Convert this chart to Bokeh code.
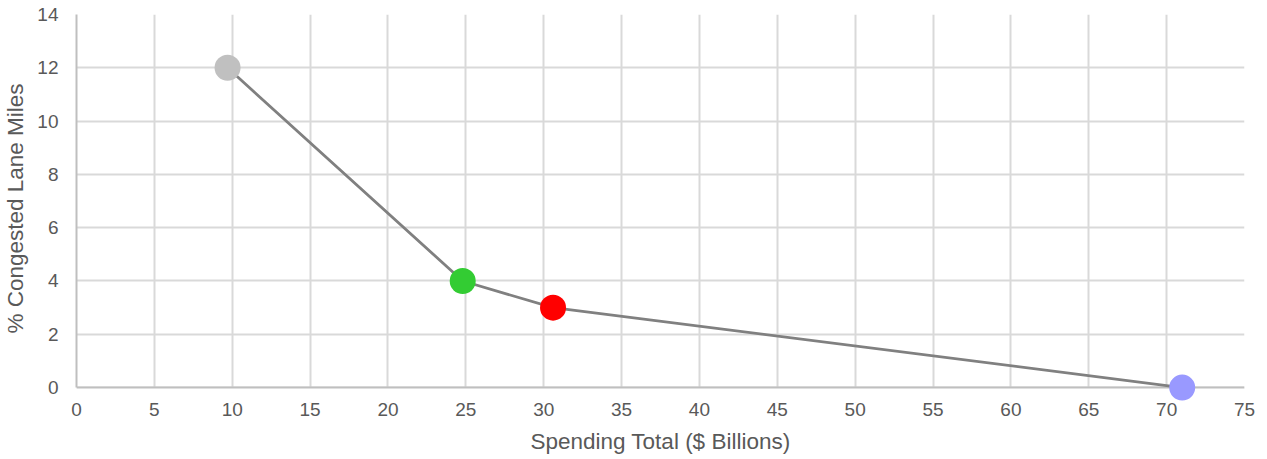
from bokeh.plotting import figure
from bokeh.models import ColumnDataSource, Range1d, FixedTicker
from bokeh.embed import file_html
from bokeh.resources import INLINE

# Spending scenarios: total spending vs. share of congested lane miles
spending = [9.7, 24.8, 30.6, 71.0]
congested = [12, 4, 3, 0]
colors = ["#c0c0c0", "#33cc33", "#ff0000", "#9999ff"]

x_ticks = list(range(0, 80, 5))
y_ticks = list(range(0, 16, 2))

x_min, x_max = x_ticks[0], x_ticks[-1]
y_min, y_max = y_ticks[0], y_ticks[-1]
# a little room under zero so markers sitting on the baseline are not cut off
y_pad = 0.56

src = ColumnDataSource(data=dict(x=spending, y=congested, c=colors))

p = figure(width=1267, height=459, output_backend="svg", toolbar_location=None,
           x_range=Range1d(x_min, x_max), y_range=Range1d(y_min - y_pad, y_max),
           min_border_left=76, min_border_right=23, min_border_top=14,
           min_border_bottom=57)
p.outline_line_color = None
p.background_fill_color = "white"
p.border_fill_color = "white"

grid_color = "#d9d9d9"
axis_color = "#bfbfbf"
text_color = "#595959"

# mask the grid below the baseline, then draw the baseline itself
p.quad(left=[x_min], right=[x_max], bottom=[y_min - y_pad], top=[y_min],
       fill_color="white", line_color=None)
p.segment(x0=[x_min], y0=[y_min], x1=[x_max], y1=[y_min],
          line_color=axis_color, line_width=2)

p.line("x", "y", source=src, line_color="#808080", line_width=2.8)
p.scatter("x", "y", source=src, size=26, fill_color="c", line_color=None)

for ax in (p.xaxis[0], p.yaxis[0]):
    ax.major_tick_out = 0
    ax.major_tick_in = 0
    ax.minor_tick_out = 0
    ax.minor_tick_in = 0
    ax.axis_line_color = axis_color
    ax.axis_line_width = 2
    ax.major_label_text_font = "Liberation Sans"
    ax.major_label_text_font_size = "19px"
    ax.major_label_text_color = text_color
    ax.axis_label_text_font = "Liberation Sans"
    ax.axis_label_text_font_size = "22.5px"
    ax.axis_label_text_font_style = "normal"
    ax.axis_label_text_color = text_color

p.xaxis.axis_line_color = None
p.yaxis.bounds = (y_min, y_max)
p.xaxis.ticker = FixedTicker(ticks=x_ticks)
p.yaxis.ticker = FixedTicker(ticks=y_ticks)
p.xaxis.axis_label = "Spending Total ($ Billions)"
p.yaxis.axis_label = "% Congested Lane Miles"
p.xaxis.major_label_standoff = 0
p.yaxis.major_label_standoff = 18
p.xaxis.axis_label_standoff = 10
p.yaxis.axis_label_standoff = 6

for g in (p.xgrid[0], p.ygrid[0]):
    g.grid_line_color = grid_color
    g.grid_line_width = 2

open("out.html", "w").write(file_html(p, INLINE))
